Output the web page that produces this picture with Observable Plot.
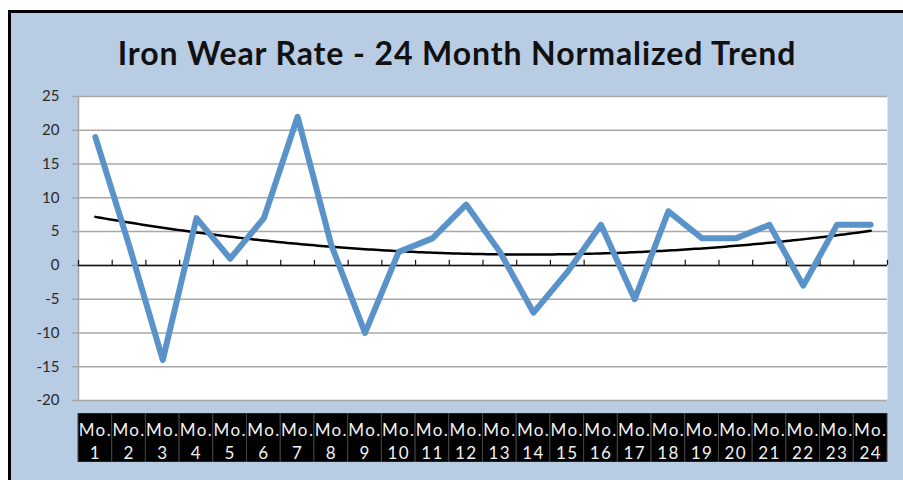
<!DOCTYPE html>
<html>
<head>
<meta charset="utf-8">
<script src="https://cdn.jsdelivr.net/npm/d3@7"></script>
<script src="https://cdn.jsdelivr.net/npm/@observablehq/plot@0.6"></script>
<style>
  html, body { margin: 0; padding: 0; background: #fff; }
  #page { position: relative; width: 903px; height: 480px; overflow: hidden; background: #fff; font-family: Lato, "Open Sans", sans-serif; }
  #box { position: absolute; left: 8px; top: 10px; width: 900px; height: 480px; background: #b8cce4; border-left: 3px solid #000; border-top: 3px solid #000; }
  #title { position: absolute; left: 11px; width: 892px; top: 33px; text-align: center; font: bold 32px Lato, "Open Sans", sans-serif; letter-spacing: 0.9px; color: #111; white-space: nowrap; }
  #main { position: absolute; left: 0; top: 80px; }
  #strip { position: absolute; left: 0; top: 413px; }
</style>
</head>
<body>
<div id="page">
  <div id="box"></div>
  <div id="title">Iron Wear Rate - 24 Month Normalized Trend</div>
  <div id="main"></div>
  <div id="strip"></div>
</div>
<script>
// Data
const months = [1,2,3,4,5,6,7,8,9,10,11,12,13,14,15,16,17,18,19,20,21,22,23,24];
const wearRate = [19,3,-14,7,1,7,22,3,-10,2,4,9,2,-7,-1,6,-5,8,4,4,6,-3,6,6];
const monthLabels = months.map(m => `Mo.\n${m}`);
const yTicks = [-20,-15,-10,-5,0,5,10,15,20,25];

const data = months.map((m, i) => ({month: m, value: wearRate[i], label: monthLabels[i]}));
const boundaries = [months[0] - 0.5, ...months.map(m => m + 0.5)];

// Quadratic (2nd order polynomial) least-squares trendline from the data
function polyFit2(xs, ys) {
  const S = [0,0,0,0,0], T = [0,0,0];
  xs.forEach((x, i) => {
    for (let k = 0; k < 5; k++) S[k] += Math.pow(x, k);
    for (let k = 0; k < 3; k++) T[k] += ys[i] * Math.pow(x, k);
  });
  const A = [[S[0],S[1],S[2],T[0]],[S[1],S[2],S[3],T[1]],[S[2],S[3],S[4],T[2]]];
  for (let c = 0; c < 3; c++) {
    for (let r = c + 1; r < 3; r++) {
      const f = A[r][c] / A[c][c];
      for (let k = c; k < 4; k++) A[r][k] -= f * A[c][k];
    }
  }
  const b = [0,0,0];
  for (let r = 2; r >= 0; r--) {
    let s = A[r][3];
    for (let k = r + 1; k < 3; k++) s -= A[r][k] * b[k];
    b[r] = s / A[r][r];
  }
  return x => b[0] + b[1] * x + b[2] * x * x;
}
const fit = polyFit2(months, wearRate);
const trend = d3.range(months[0], months[months.length - 1] + 0.001, 0.1).map(x => ({month: x, value: fit(x)}));

const xDomain = [boundaries[0], boundaries[boundaries.length - 1]];

const main = Plot.plot({
  width: 903,
  height: 330,
  marginLeft: 78,
  marginRight: 16,
  marginTop: 16,
  marginBottom: 10,
  style: {background: "transparent", fontFamily: "Lato, 'Open Sans', sans-serif"},
  x: {domain: xDomain, axis: null},
  y: {domain: [-20, 25]},
  marks: [
    Plot.frame({fill: "white", stroke: null}),
    Plot.gridY(yTicks, {stroke: "#a8a8a8", strokeOpacity: 1, strokeWidth: 1.5}),
    Plot.axisY(yTicks, {tickSize: 6, tickPadding: 13, stroke: "#a8a8a8", strokeWidth: 1.5, fontSize: 15, fill: "#2a2a2a", label: null, tickFormat: d => String(d)}),
    Plot.ruleX([boundaries[0]], {stroke: "#a8a8a8", strokeWidth: 1.5}),
    Plot.ruleY([0], {stroke: "#111", strokeWidth: 1.5}),
    Plot.ruleX(boundaries, {x: d => d, y1: 0, y2: 0.75, stroke: "#111", strokeWidth: 1.2}),
    Plot.line(trend, {x: "month", y: "value", stroke: "#000", strokeWidth: 2.5, curve: "linear"}),
    Plot.line(data, {x: "month", y: "value", stroke: "#5a93c9", strokeWidth: 6, strokeLinejoin: "round", strokeLinecap: "round"})
  ]
});
document.getElementById("main").appendChild(main);

const strip = Plot.plot({
  width: 903,
  height: 49,
  marginLeft: 78,
  marginRight: 16,
  marginTop: 0,
  marginBottom: 0,
  style: {background: "transparent", fontFamily: "Lato, 'Open Sans', sans-serif", letterSpacing: "1.4px"},
  x: {domain: xDomain, axis: null},
  marks: [
    Plot.rect(data, {x1: d => d.month - 0.5, x2: d => d.month + 0.5, fill: "#000", stroke: "#444", strokeWidth: 1}),
    Plot.text(data, {x: "month", text: "label", fill: "#f2f2f2", fontSize: 17, lineHeight: 1.38, frameAnchor: "middle", dy: 2})
  ]
});
document.getElementById("strip").appendChild(strip);
</script>
</body>
</html>
